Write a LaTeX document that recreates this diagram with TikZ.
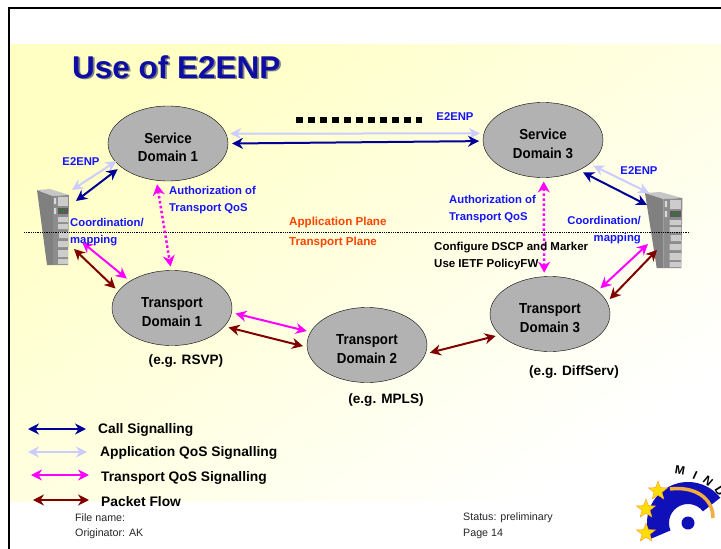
\documentclass[tikz,border=0pt]{standalone}
\usepackage{fontspec}
\setmainfont{Liberation Sans}
\newfontfamily\ovalfont[FakeStretch=0.92]{Liberation Sans}
\usetikzlibrary{shapes.geometric, arrows.meta}

\definecolor{callblue}{HTML}{000099}
\definecolor{appblue}{HTML}{CCCCFF}
\definecolor{transpink}{HTML}{FF00FF}
\definecolor{packetred}{HTML}{800000}
\definecolor{labelblue}{HTML}{1414FF}
\definecolor{slideyellow}{HTML}{FFFFC4}
\definecolor{planeorange}{HTML}{FF4400}
\definecolor{logoblue}{HTML}{1010B8}
\definecolor{logoorange}{HTML}{F2AE3C}

\newcommand{\shadowed}[1]{\leavevmode\rlap{\kern1.6pt\raisebox{-1.6pt}{\color{gray}#1}}#1}
\newcommand{\lowered}{\rule{0pt}{18pt}}

\tikzset{
  serverbox/.pic={
    \fill[black!50] (0,0) -- (16,6) -- (16,75) -- (10,75) -- cycle;
    \fill[gray!45] (0,0) -- (13,-1) -- (32,5) -- (16,6) -- cycle;
    \fill[black!45] (16,6) -- (32,5) -- (31,75) -- (16,75) -- cycle;
    \fill[gray!40] (21,7) rectangle (31,16);
    \fill[black!65] (21,18) rectangle (31,24);
    \fill[green!60!black] (25,20) rectangle (27,22);
    \fill[gray!40] (21,27) rectangle (31,32) (21,34) rectangle (31,39)
      (22,42) rectangle (31,48) (21,51) rectangle (31,57) (21,60) rectangle (31,67) (21,69) rectangle (31,74);
    \fill[gray!30] (17,8) rectangle (19,14) (17,18) rectangle (19,24);
  }
}

\begin{document}
\begin{tikzpicture}[x=1pt,y=-1pt]

\tikzstyle{domainoval} = [ellipse, draw=black, fill=gray!60, minimum width=120pt, minimum height=75pt, inner sep=0pt, outer sep=4pt, align=center, font=\ovalfont\bfseries\fontsize{14.5}{18.5}\selectfont]
\tikzstyle{hub} = [minimum width=32pt, minimum height=76pt, inner sep=0pt, outer sep=0pt]
\tikzstyle{bluelabel} = [inner sep=0pt, text=labelblue, font=\bfseries\fontsize{11.3}{17}\selectfont, align=left]
\tikzstyle{blacklabel} = [inner sep=0pt, font=\bfseries\fontsize{11.5}{17}\selectfont, align=left]
\tikzstyle{examplelabel} = [inner sep=0pt, font=\bfseries\fontsize{13.6}{16}\selectfont]
\tikzstyle{orangelabel} = [inner sep=0pt, anchor=west, text=planeorange, font=\bfseries\fontsize{11.6}{14}\selectfont]
\tikzstyle{legendlabel} = [inner sep=0pt, anchor=west, font=\bfseries\fontsize{13.8}{16}\selectfont]
\tikzstyle{footer} = [inner sep=0pt, anchor=west, text=black!85, font=\fontsize{10.7}{12}\selectfont]
\tikzstyle{goldstar} = [star, star points=5, star point ratio=2.4, fill=yellow!80!orange, draw=orange!80, inner sep=0pt, minimum size=20pt]
\tikzstyle{logoletter} = [inner sep=0pt, font=\bfseries\fontsize{12}{12}\selectfont]
\tikzstyle{callarrow} = [line width=2pt, <->, >={Stealth[length=11pt,width=11pt]}, callblue]
\tikzstyle{apparrow} = [line width=2pt, <->, >={Stealth[length=11pt,width=11pt]}, appblue]
\tikzstyle{transarrow} = [line width=2pt, <->, >={Stealth[length=11pt,width=11pt]}, transpink]
\tikzstyle{packetarrow} = [line width=2pt, <->, >={Stealth[length=11pt,width=11pt]}, packetred]
\tikzstyle{autharrow} = [line width=2.5pt, dash pattern=on 2.5pt off 2.5pt, <->, >={Stealth[length=11pt,width=12pt]}, transpink]

\useasboundingbox (0,0) rectangle (721,549);

% slide
\fill[white] (0,0) rectangle (721,549);
\shade[top color=slideyellow, bottom color=white, shading angle=35] (10,44) rectangle (721,501);
\draw[line width=2.5pt] (9,549) -- (9,8) -- (721,8);

% servers
\pic at (37,190) {serverbox};
\pic[xscale=1.17] at (645,193) {serverbox};
\node (serverleft) [hub] at (53,227) {};
\node (serverright) [hub] at (664,231) {};

% plane border
\coordinate (planeleft) at (24,232);
\coordinate (planeright) at (690,232);
\draw[densely dotted, line width=0.8pt] (planeleft) -- (planeright);

\node (title) [inner sep=0pt, anchor=base west, text=logoblue!90!black, font=\bfseries\fontsize{31.5}{31.5}\selectfont] at (72,78) {\shadowed{Use of E2ENP}};

% domains
\node (service1) [domainoval] at (168,143.5) {\lowered Service\\Domain 1};
\node (service3) [domainoval] at (543,140) {\lowered Service\\Domain 3};
\node (transport1) [domainoval] at (172,308) {\lowered Transport\\Domain 1};
\node (transport2) [domainoval] at (367,345) {\lowered Transport\\Domain 2};
\node (transport3) [domainoval] at (550,314) {\lowered Transport\\Domain 3};

% e2enp dashes
\coordinate (dashleft) at (296,120);
\coordinate (dashright) at (422,120);
\draw[line width=6pt, dash pattern=on 6.5pt off 5.5pt] (dashleft) -- (dashright);

% connectors
\draw [apparrow] (service1.9.3) -- (service3.174.6);
\draw [callarrow] (service1.0.9) -- (service3.181.7);
\draw [apparrow, shorten <=-5pt] (service1.200.6) -- ([shift={(3,1)}]serverleft.north east);
\draw [callarrow] (service1.207.9) -- ([shift={(7,12)}]serverleft.north east);
\draw [autharrow] (service1.255) -- (transport1.92.9);
\draw [transarrow] ([shift={(13,53)}]serverleft.north east) -- (transport1.147.7);
\draw [packetarrow] ([shift={(5,60)}]serverleft.north east) -- (transport1.161);
\draw [transarrow] (transport1.355.2) -- (transport2.167.8);
\draw [packetarrow] (transport1.341) -- (transport2.181.9);
\draw [packetarrow] (transport2.353.5) -- (transport3.202);
\draw [apparrow] (service3.333.4) -- ([shift={(1,0)}]serverright.north west);
\draw [callarrow] (service3.321) -- ([shift={(-1,12)}]serverright.north west);
\draw [autharrow] (service3.271) -- (transport3.98.7);
\draw [transarrow] ([shift={(0,51)}]serverright.north west) -- (transport3.27);
\draw [packetarrow] ([shift={(9,57)}]serverright.north west) -- (transport3.14.3);

% labels
\node (e2enpleft) [bluelabel] at (81,162) {E2ENP};
\node (e2enptop) [bluelabel] at (455,117) {E2ENP};
\node (e2enpright) [bluelabel] at (639,171) {E2ENP};
\node (authleft) [bluelabel, anchor=west] at (169,200.5) {Authorization of\\Transport QoS};
\node (authright) [bluelabel, anchor=west] at (449,209.5) {Authorization of\\Transport QoS};
\node (coordleft) [bluelabel, anchor=west] at (70,232.5) {Coordination/\\mapping};
\node (coordright) [bluelabel, anchor=east, align=right] at (641,230.5) {Coordination/\\mapping};
\node (appplane) [orangelabel] at (289,222.5) {Application Plane};
\node (transplane) [orangelabel] at (289,242.5) {Transport Plane};
\node (configure) [blacklabel, anchor=west] at (434,256) {Configure DSCP and Marker\\Use IETF PolicyFW};
\node (rsvp) [examplelabel] at (186,361) {(e.g. RSVP)};
\node (mpls) [examplelabel] at (386,400) {(e.g. MPLS)};
\node (diffserv) [examplelabel] at (574,372) {(e.g. DiffServ)};

% legend
\coordinate (callstart) at (28,429);
\coordinate (callend) at (86,429);
\coordinate (appstart) at (28,452);
\coordinate (append) at (87,452);
\coordinate (transstart) at (31,475);
\coordinate (transend) at (89,475);
\coordinate (packetstart) at (33,500);
\coordinate (packetend) at (89,500);
\draw [callarrow] (callstart) -- (callend);
\draw [apparrow] (appstart) -- (append);
\draw [transarrow] (transstart) -- (transend);
\draw [packetarrow] (packetstart) -- (packetend);
\node (calllabel) [legendlabel] at (98,430) {Call Signalling};
\node (applabel) [legendlabel] at (100,453) {Application QoS Signalling};
\node (translabel) [legendlabel] at (101,478) {Transport QoS Signalling};
\node (packetlabel) [legendlabel] at (101,502) {Packet Flow};

% footer
\node (filename) [footer] at (75,518) {File name:};
\node (originator) [footer] at (75,534) {Originator: AK};
\node (status) [footer] at (463,518) {Status: preliminary};
\node (page) [footer] at (463,534) {Page 14};

% logo
\fill[logoblue] (688,523) ++(203:41pt) arc[start angle=203, end angle=38, radius=41pt] -- ++(218:22pt) arc[start angle=38, end angle=203, radius=19pt] -- cycle;
\fill[logoblue] (688,523) circle[radius=6.5pt];
\draw[logoorange, line width=3.5pt] (670,489) .. controls (695,486) and (713,498) .. (713,518);
\node (star1) [goldstar] at (658,491) {};
\node (star2) [goldstar] at (646,509) {};
\node (star3) [goldstar] at (646,533) {};
\node (letterm) [logoletter, rotate=-10] at (680,470) {M};
\node (letteri) [logoletter, rotate=-25] at (695,475) {I};
\node (lettern) [logoletter, rotate=-40] at (708,481) {N};
\node (letterd) [logoletter, rotate=-58] at (720,491) {D};

\end{tikzpicture}
\end{document}
